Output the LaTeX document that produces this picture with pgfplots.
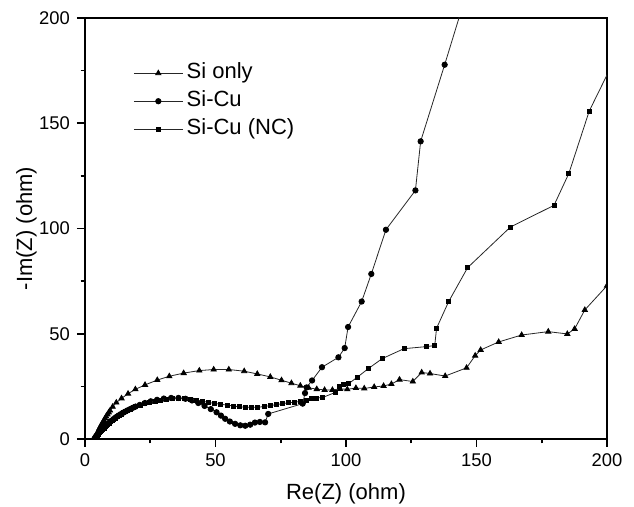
\documentclass[border=0pt]{standalone}
\usepackage{fontspec}
\setmainfont{Liberation Sans}
\usepackage{pgfplots}
\pgfplotsset{compat=1.18}
\begin{document}
\begin{tikzpicture}
\useasboundingbox (-42.5pt,-34pt) rectangle (274.5pt,219.5pt);
\begin{axis}[
 scale only axis, width=261pt, height=210.5pt,
 xmin=0,xmax=200,ymin=0,ymax=200,
 xtick={0,50,100,150,200}, ytick={0,50,100,150,200},
 minor tick num=1,
 tick align=outside, tick pos=left,
 major tick length=4pt, minor tick length=2.2pt,
 axis line style={line width=1pt},
 every tick/.style={black,line width=0.8pt},
 /pgf/number format/assume math mode=true,
 ticklabel style={font=\fontsize{9.2}{10}\selectfont},
 xlabel={Re(Z) (ohm)}, ylabel={-Im(Z) (ohm)},
 label style={font=\fontsize{11}{12}\selectfont},
 xlabel style={at={(axis description cs:0.5,-0.1306)}, anchor=center},
 ylabel style={at={(axis description cs:-0.112,0.5)}, anchor=center},
 clip marker paths=true,
 legend style={at={(axis description cs:0.092,0.903)}, anchor=north west, draw=none, fill=none,
   font=\fontsize{11}{13}\selectfont, inner sep=0pt,
   nodes={inner sep=1.75pt, text height=8pt, text depth=2.5pt}},
 legend cell align=left,
 legend image code/.code={\draw[mark repeat=2,mark phase=2,#1] plot coordinates {(0pt,0pt) (12.25pt,0pt) (24.5pt,0pt)};},
]
\addplot[black!85, line width=0.4pt, mark=triangle*, mark size=1.5pt, mark options={black,solid}] coordinates {
(3.8,0)(4.0,0.6)(4.2,1.3)(4.45,2.0)(4.7,2.8)(5.0,3.6)(5.3,4.4)(5.6,5.2)(6.0,6.1)(6.4,7.0)(6.8,7.9)(7.2,8.8)(7.7,9.8)(8.1,10.7)(8.6,11.7)(9.1,12.6)(9.6,13.5)(10.6,15.3)(12.0,17.3)(14.0,19.3)(16.5,21.5)(19.3,23.6)(23.0,25.7)(27.7,28.0)(32.3,29.8)(37.8,31.3)(43.8,32.5)(49.3,33.0)(55.1,33.0)(61.0,32.2)(66.0,30.9)(71.0,29.5)(75.3,27.9)(79.1,26.5)(82.5,25.3)(85.7,24.3)(88.8,23.7)(91.8,23.3)(94.8,23.3)(97.7,23.8)(100.5,23.6)(103.8,24.2)(107.0,24.0)(110.8,24.7)(114.4,25.2)(117.4,26.1)(120.5,28.2)(125.6,27.3)(129.0,31.6)(132.2,31.1)(138.0,29.9)(146.2,33.8)(149.5,39.6)(151.6,42.3)(158.5,46.1)(167.3,49.4)(177.5,51.0)(184.8,49.9)(187.6,52.3)(191.5,61.3)(200.0,72.8)
};
\addlegendentry{Si only}
\addplot[black!85, line width=0.4pt, mark=*, mark size=1.35pt, mark options={black,solid}] coordinates {
(3.6,0)(3.8,0.4)(4.0,0.8)(4.25,1.25)(4.5,1.7)(4.85,2.2)(5.2,2.7)(5.55,3.2)(5.9,3.7)(6.3,4.2)(6.7,4.7)(7.15,5.25)(7.6,5.8)(8.1,6.4)(8.6,7.0)(9.15,7.6)(9.7,8.2)(10.3,8.8)(10.9,9.4)(11.5,10.0)(12.2,10.6)(12.9,11.2)(13.7,11.8)(14.5,12.4)(15.4,13.0)(16.3,13.6)(17.3,14.2)(18.3,14.8)(19.4,15.4)(21.0,16.2)(23.0,17.1)(25.2,17.9)(27.6,18.6)(30.2,19.2)(33.0,19.5)(35.8,19.5)(38.5,19.1)(41.0,18.3)(43.4,17.1)(45.8,15.7)(48.2,14.2)(50.4,12.7)(52.1,11.1)(53.7,9.6)(55.5,8.3)(57.5,7.2)(59.5,6.5)(61.4,6.3)(63.3,6.8)(65.1,7.8)(67.0,8.1)(69.0,7.9)(70.2,11.9)(83.4,16.8)(84.3,21.8)(84.9,24.5)(87.0,27.8)(90.8,34.1)(97.1,38.8)(99.5,43.2)(100.8,53.2)(106.0,65.3)(109.7,78.4)(115.3,99.4)(126.6,118.1)(128.6,141.4)(137.8,177.8)(146.5,213)
};
\addlegendentry{Si-Cu}
\addplot[black!85, line width=0.4pt, mark=square*, mark size=1.0pt, mark options={black,solid}] coordinates {
(3.7,0)(3.9,0.4)(4.1,0.8)(4.35,1.25)(4.6,1.7)(4.95,2.2)(5.3,2.7)(5.65,3.2)(6.0,3.7)(6.4,4.2)(6.8,4.7)(7.25,5.25)(7.7,5.8)(8.2,6.4)(8.7,7.0)(9.25,7.6)(9.8,8.2)(10.4,8.8)(11.0,9.4)(11.6,10.0)(12.3,10.6)(13.0,11.2)(13.8,11.8)(14.6,12.4)(15.5,13.0)(16.4,13.6)(17.4,14.2)(18.4,14.8)(19.5,15.3)(21.1,16.0)(22.9,16.7)(24.8,17.3)(26.8,17.9)(28.9,18.4)(31.1,18.8)(33.4,19.1)(35.7,19.2)(38.0,19.1)(40.3,18.9)(42.5,18.5)(44.8,18.0)(47.2,17.4)(49.6,16.9)(52.0,16.5)(54.4,16.1)(56.7,15.7)(59.0,15.3)(61.4,15.1)(63.8,15.0)(66.2,15.1)(68.6,15.4)(71.0,15.9)(73.3,16.3)(75.6,16.8)(77.9,17.2)(80.2,17.5)(82.6,17.8)(84.8,18.4)(86.8,19.3)(88.8,19.5)(91.0,19.7)(96.1,22.2)(97.4,25.0)(99.0,25.7)(101.0,26.3)(104.3,29.3)(108.4,33.3)(113.9,38.2)(122.2,42.9)(130.9,43.9)(134.0,44.4)(134.7,52.6)(139.3,65.2)(146.6,81.4)(163.0,100.7)(179.7,111.0)(185.4,126.2)(193.2,155.8)(204,183)
};
\addlegendentry{Si-Cu (NC)}
\end{axis}
\end{tikzpicture}
\end{document}
